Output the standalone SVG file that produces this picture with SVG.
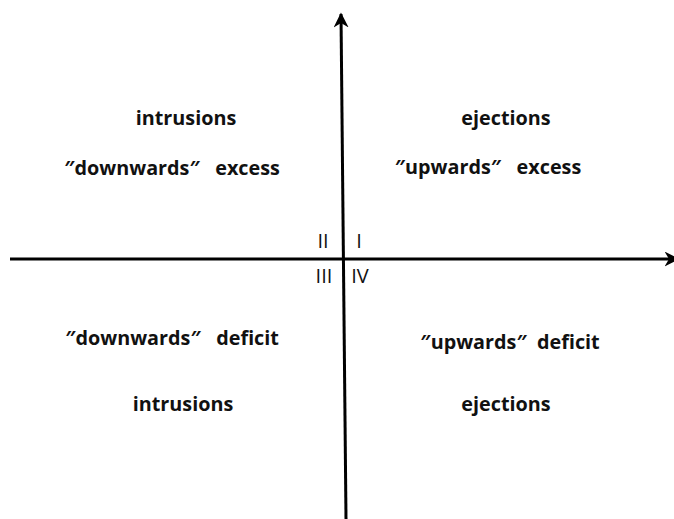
<svg xmlns="http://www.w3.org/2000/svg" width="674" height="519" viewBox="0 0 674 519">
<style>
.lbl{font-family:"Open Sans","Noto Sans",sans-serif;font-weight:bold;font-size:19.8px;fill:#111;text-anchor:middle;dominant-baseline:central}
.num{font-family:"Open Sans","Noto Sans",sans-serif;font-size:20px;fill:#111;text-anchor:middle;dominant-baseline:central}
.ax{stroke:#000;stroke-width:3;fill:none}
</style>
<defs>
<marker id="arr" viewBox="0 0 10 10" refX="9" refY="5" markerWidth="5" markerHeight="5" orient="auto" markerUnits="strokeWidth">
<path d="M0,0 L10,5 L0,10 L3,5 Z" fill="#000"/>
</marker>
</defs>
<g id="connectors">
<line class="ax" x1="346" y1="519" x2="341" y2="14" marker-end="url(#arr)"/>
<line class="ax" x1="10" y1="259" x2="678" y2="259" marker-end="url(#arr)"/>
</g>
<g id="q2">
<text class="lbl" x="186" y="117">intrusions</text>
<text class="lbl" x="172" y="167" xml:space="preserve">″downwards″   excess</text>
</g>
<g id="q1">
<text class="lbl" x="506" y="117">ejections</text>
<text class="lbl" x="488" y="166" xml:space="preserve">″upwards″   excess</text>
</g>
<g id="q3">
<text class="lbl" x="172" y="337" xml:space="preserve">″downwards″   deficit</text>
<text class="lbl" x="183" y="403">intrusions</text>
</g>
<g id="q4">
<text class="lbl" x="510" y="341" xml:space="preserve">″upwards″  deficit</text>
<text class="lbl" x="506" y="403">ejections</text>
</g>
<g id="numerals">
<text class="num" x="323" y="240">II</text>
<text class="num" x="359" y="240">I</text>
<text class="num" x="324" y="275">III</text>
<text class="num" x="360" y="275">IV</text>
</g>
</svg>
